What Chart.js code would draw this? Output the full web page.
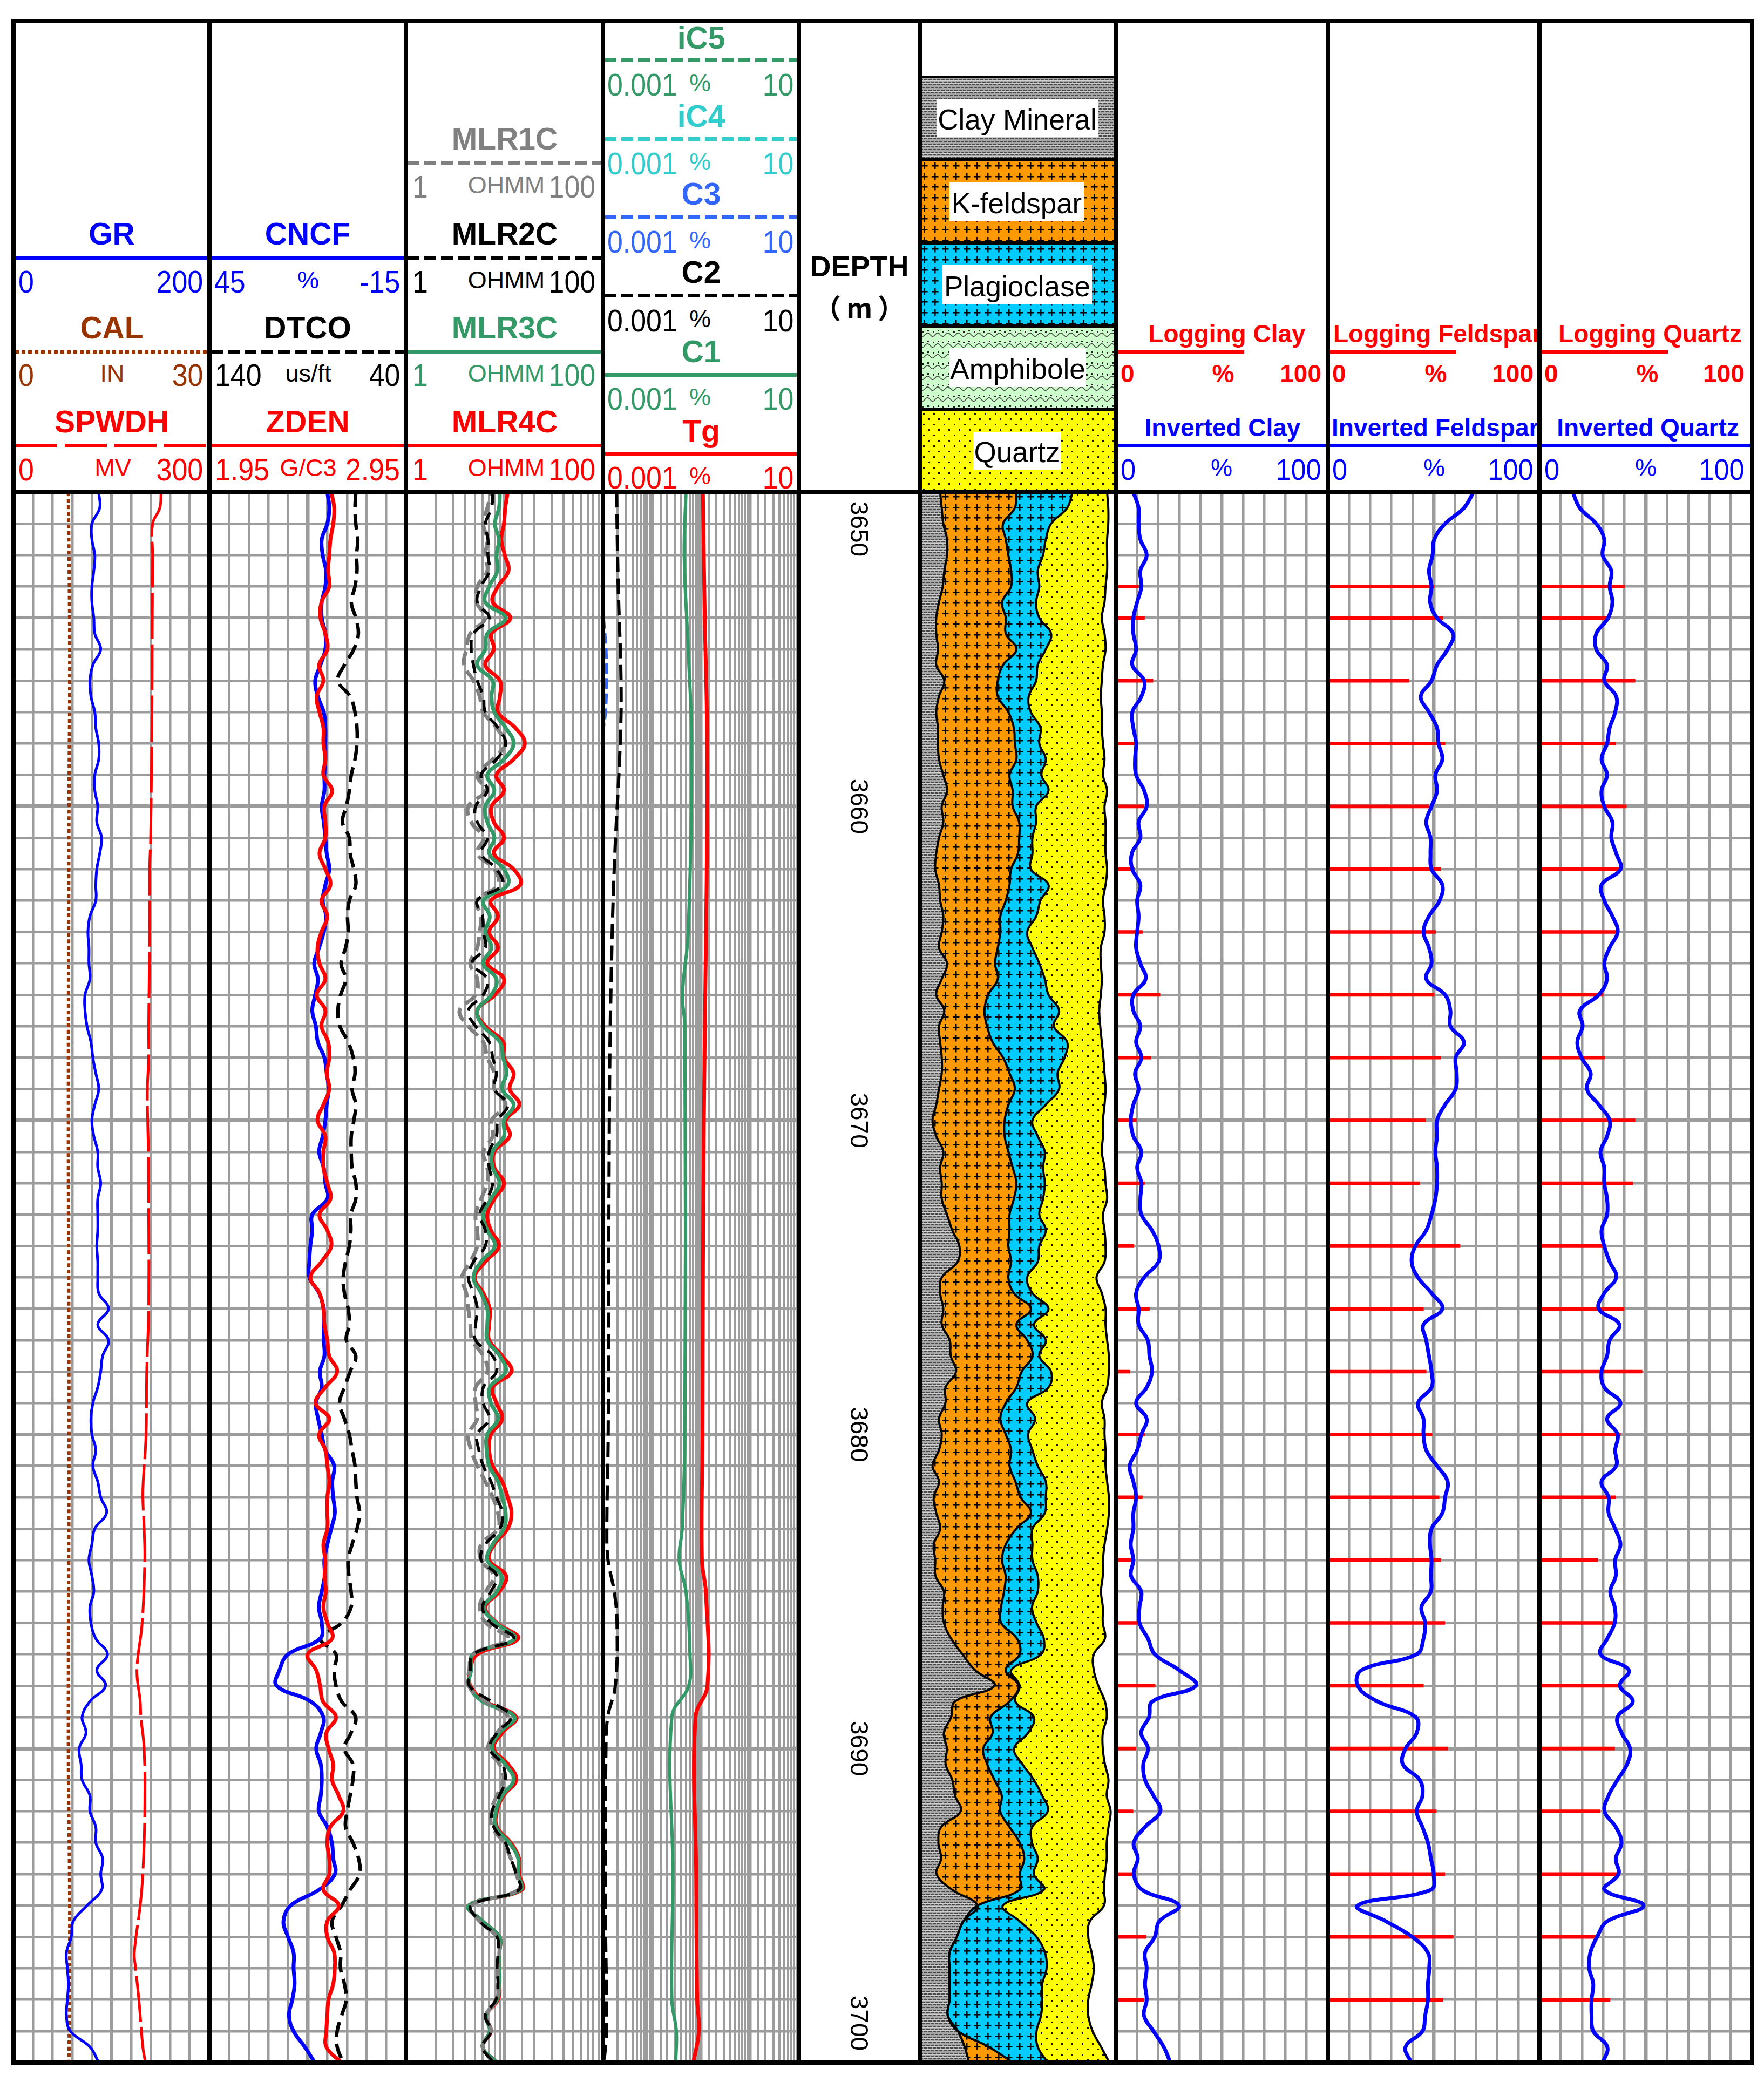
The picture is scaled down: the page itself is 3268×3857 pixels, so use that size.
<!DOCTYPE html>
<html><head><meta charset="utf-8">
<script src="https://cdn.jsdelivr.net/npm/chart.js@4"></script>
<style>
html,body{margin:0;padding:0;background:#fff}
#page{position:relative;width:3268px;height:3857px;overflow:hidden;background:#fff;font-family:"Liberation Sans",Arial,sans-serif}
#page canvas{position:absolute}
.t{position:absolute;white-space:pre;line-height:1}
.l{position:absolute}
</style></head><body><div id="page"></div>
<script>
const depths=[3650,3650.5,3651,3651.5,3652,3652.5,3653,3653.5,3654,3654.5,3655,3655.5,3656,3656.5,3657,3657.5,3658,3658.5,3659,3659.5,3660,3660.5,3661,3661.5,3662,3662.5,3663,3663.5,3664,3664.5,3665,3665.5,3666,3666.5,3667,3667.5,3668,3668.5,3669,3669.5,3670,3670.5,3671,3671.5,3672,3672.5,3673,3673.5,3674,3674.5,3675,3675.5,3676,3676.5,3677,3677.5,3678,3678.5,3679,3679.5,3680,3680.5,3681,3681.5,3682,3682.5,3683,3683.5,3684,3684.5,3685,3685.5,3686,3686.5,3687,3687.5,3688,3688.5,3689,3689.5,3690,3690.5,3691,3691.5,3692,3692.5,3693,3693.5,3694,3694.5,3695,3695.5,3696,3696.5,3697,3697.5,3698,3698.5,3699,3699.5,3700];
const depthTicks=[3650,3660,3670,3680,3690,3700];
const GR=[87,88,80,80,83,82,80,80,82,83,89,81,78,79,83,84,87,87,83,83,86,85,90,88,85,84,84,78,76,77,77,78,73,73,75,
79,81,84,87,83,80,82,86,86,89,86,86,86,85,86,86,87,97,86,97,91,89,86,81,79,80,84,81,86,89,95,83,80,77,
80,82,78,79,84,96,85,94,78,70,74,67,69,70,78,78,84,84,91,89,90,75,61,59,54,55,56,55,54,58,78,87];
const calDepths=[3650,3655,3660,3670,3680,3690,3695,3700];
const CAL=[8.4,8.6,8.5,8.4,8.5,8.4,8.6,8.5];
const spDepths=[3650,3650.5,3651,3652,3654,3657,3661,3662,3664,3667,3668,3669,3670,3671,3673,3676,3678,3680,3681.5,3682,3683,3684,3686,3687.5,3688.5,3689,3690,3692,3694,3695,3696.5,3697,3698,3699.5,3700];
const SPWDH=[226,224,213,213,212.5,212,210,208.5,208.5,207,207,205,205.5,206.5,207,207,204,203,198.6,198,200,201,197,189,194,195,200,201,198,194,185,187,192,198,202];
const CNCF=[9.0,8.4,9.0,10.7,10.4,9.4,9.6,10.7,10.7,9.6,9.6,11.1,12.7,11.9,10.1,9.6,9.6,9.6,9.9,9.9,10.7,10.1,9.6,9.2,8.4,9.6,10.4,9.4,10.1,11.5,13.0,11.9,12.7,13.6,12.5,
11.9,9.9,9.2,8.6,9.2,9.6,10.4,11.5,10.1,9.6,9.0,13.6,13.6,14.2,14.5,14.5,11.5,10.1,10.1,10.1,9.9,11.3,10.7,12.5,11.8,10.7,9.6,6.9,7.5,7.2,6.7,7.8,9.0,9.9,
9.8,10.7,11.6,10.7,11.2,21.0,23.6,24.5,14.1,10.2,11.0,12.4,11.0,10.7,11.0,11.6,9.0,7.6,7.2,6.7,11.6,20.2,22.4,21.0,19.3,19.3,19.0,19.7,20.7,19.3,15.9,12.8];
const ZDEN=[2.57,2.585,2.58,2.566,2.56,2.554,2.56,2.52,2.515,2.54,2.55,2.508,2.53,2.496,2.51,2.53,2.53,2.54,2.53,2.574,2.535,2.54,2.54,2.51,2.54,2.566,2.52,2.55,2.52,2.50,2.51,2.54,2.496,2.54,2.52,
2.554,2.56,2.547,2.56,2.53,2.50,2.54,2.53,2.53,2.55,2.566,2.51,2.55,2.57,2.52,2.464,2.51,2.53,2.535,2.55,2.56,2.60,2.54,2.49,2.56,2.508,2.54,2.55,2.56,2.55,2.55,2.55,2.53,2.54,
2.536,2.542,2.53,2.55,2.574,2.45,2.493,2.513,2.528,2.594,2.545,2.556,2.58,2.574,2.608,2.631,2.565,2.55,2.56,2.56,2.53,2.608,2.55,2.55,2.585,2.588,2.58,2.556,2.55,2.545,2.545,2.622];
const DTCO=[65.5,65.9,65.5,64.5,65.1,64.9,65.9,67.8,65.5,64.2,66.5,71.3,74.6,68.4,65.9,64.9,64.9,65.9,67.8,68.8,70.3,72.3,68.8,68.4,66.5,65.5,68.8,69.7,69.4,70.7,73,70.7,73.2,74.6,73.6,
69.4,66.8,65.9,67.4,65.5,66.5,67.8,67.8,67.4,65.5,65.5,68,68,68.8,70.7,71.9,71.3,69.4,68.8,70.3,65.5,68.4,71.3,73.8,71.3,68.8,67.4,65.9,65.5,64.9,63.6,64.9,67.4,69.4,
69,67.9,67.9,72.7,83.4,75.6,76.5,75.6,72.7,65.6,67.9,71.3,67,67,68.4,69.9,70.7,67,64.1,63.6,68.4,72.7,77.6,75.6,73.3,73.3,71.3,70.4,72.7,75,75,71.9];
const MLR4C=[10.8,10.2,9.9,9.3,10.1,11,8.6,7.6,11.5,7.4,7.8,6.4,9,9,8.6,12.9,16.1,12.4,8.3,9.9,7.4,7.8,9.9,7.8,12.4,14.5,7.3,8.6,7,8.6,6.7,9.9,8,5.3,6.4,
9.7,9.9,12.4,11.3,14.2,10.3,11.3,7.9,7.9,9.9,7.9,6.7,7.3,8.8,6.4,5,6.1,7.1,7,7,9.5,11.8,7.6,8.3,9.5,7.3,7,7.6,9.5,10.8,11.8,10.8,7.9,7,
10.4,8.9,6.4,8.4,13.8,5.3,4.5,4.5,6.4,13.2,9.5,7.8,10.9,13.2,9.8,8.4,8.4,11.6,14.1,14.1,15,4.33,6,8.9,8.9,8.9,8.9,8.6,6.5,7.3,6,8.4];
const MLR3C=[9,8.8,8,8.8,8.3,8.5,7,6.4,10.3,6.7,6.4,5.3,7.6,7.4,7.9,10.3,12.4,9.9,6.7,7.9,6.4,6.7,7.9,7,9.9,10.8,6.1,7.1,6.4,7.4,6.1,8.3,7.4,5.3,6.1,
9,9.7,10.5,9.5,12.4,9.9,9.9,7.6,7.6,8.9,7.3,6.1,6.7,8,5.8,4.85,5.8,6.7,6.7,6.7,9,10.3,7.1,7.3,8.6,6.7,6.6,7,8.6,9.5,10.3,9.9,7.6,6.7,
9.3,8.4,6.2,8.2,12.7,4.8,4.6,4.4,6,12.7,8.9,7.5,10.2,12.4,9.5,8.2,8.2,11.2,13.8,13.8,14.5,4.33,6,8.9,8.9,8.9,8.9,8.4,6.5,7.1,6,8.4];
const MLR2C=[7.6,7.4,6.4,6.8,6.8,7,5.8,5.3,7,4.85,4.6,4.85,5.3,6.1,6.4,8.6,10.3,8.3,5.8,6.7,5.1,5.3,6.7,5.8,8.3,9.5,5.3,6,6.1,6.4,4.7,6.7,6.1,4.3,5.1,
7,7.6,8.3,7.9,10.8,8.6,8.3,7,7,7.6,6.7,5.6,6.4,6.4,4.85,4.3,4.85,5.3,5.1,5.1,7.6,8.3,6.1,6.1,7,5.3,5.5,6.1,7.3,8.3,9.5,9,6.4,5.8,
8.4,7.3,6,7.3,12.4,4.8,4.5,4.4,7.3,11.6,8.4,7.1,9.5,10.2,8.9,7.5,7.8,10.2,11.6,13.2,14.1,4.6,5.6,8.4,8.6,8.4,8.6,8.2,6.4,7.3,6,7.8];
const MLR1C=[7.4,6.7,6.1,6.7,6.4,6.7,5.3,5.2,6.4,4.5,4.1,3.9,4.85,5.6,6.1,8.3,10.2,7.6,5.3,6.4,4.3,4.6,6.1,5.3,7.9,8.6,5.2,5.8,5.6,5.3,4.5,5.3,5.1,3.5,4.3,
6.1,6.7,7.9,7.9,10.3,7.4,7.6,6.1,6.7,6.7,5.8,5.1,5.3,5.3,4.5,3.7,4.1,4.3,4.5,4.7,6.1,6.7,5.1,5.1,5.3,4.3,4.6,5.3,6.4,7.6,8.6,8.6,5.8,5.8,
7.8,6.5,5.6,6.5,10.9,4.8,4.4,4.33,6.4,10.9,8.4,6.8,8.9,9.8,8.4,7.3,7.5,9.8,11.6,13.2,13.8,4.6,5.6,8.4,8.9,8.6,8.6,8.4,6.5,7.3,6,7.8];
const tgDepths=[3650,3654,3657,3660,3665,3670,3675,3680,3684,3685,3688,3689,3694,3698,3699,3700];
const Tg=[0.11,0.12,0.132,0.135,0.125,0.115,0.11,0.108,0.105,0.126,0.136,0.0776,0.08,0.084,0.091,0.07];
const c1Depths=[3650,3652,3655,3658,3664,3666,3667,3680,3683,3684,3685,3687,3688,3689,3694,3698,3699,3700];
const C1=[0.0495,0.0457,0.055,0.0647,0.055,0.042,0.047,0.047,0.0415,0.036,0.0495,0.0598,0.0566,0.0255,0.0268,0.0255,0.0315,0.0306];
const c2Depths=[3650,3653,3656,3658,3662,3666,3670,3680,3683,3684,3685,3686,3688,3689,3690,3695,3699,3700];
const C2=[0.0019,0.00205,0.00234,0.00225,0.0017,0.00145,0.00135,0.00128,0.0012,0.00127,0.0017,0.00194,0.00179,0.00125,0.00115,0.00112,0.00118,0.00105];
const c3Depths=[3654,3655,3656,3657,3657.5];
const C3=[0.00102,0.00115,0.00118,0.00112,0.00102];
const clayTop=[10.4,11.2,12,13.9,13.9,12.5,11.7,9.8,8.4,8.4,9.3,8.4,12.5,9.8,8.4,9.3,9.3,9.8,12,13.9,11.2,12,9.8,8.4,7.9,9.8,10.4,12,11.2,9.8,13.9,11.2,8.4,12.5,9.8,
10.4,11.2,11.2,9.8,8.4,6.5,8.4,12,10.4,11.2,11.2,13.9,16.6,20.2,19.3,11.2,10.4,12,11.2,15.3,15.8,18.5,13.1,13.1,9.8,11.2,9.8,6.5,9.8,7.1,8.4,10.4,7.1,7.9,
8,12.3,11.7,12.3,16,21.8,28.1,38.1,18,16,12.3,13.8,13.2,16.6,18,20.9,10.9,9.5,10.9,8.6,16.6,29.5,22.3,18.9,15.2,15.2,15.2,15.2,14.3,19.5,22.9,25.2];
const kfeldTop=[49.3,48.5,42.5,43.9,45.2,46.6,46.6,42,43.9,43.9,49.3,42.5,39.8,39.8,45.2,48,48.5,49.3,45.8,47.4,47.4,50.7,50.7,50.1,46.6,45.8,43.9,41.1,41.1,39.8,38.4,39.8,34.9,33,34.3,
37.1,42.5,45.8,48.5,45.2,43.3,43.3,45.2,47.4,49.3,48,45.8,45.8,45.2,46.6,45.2,48,56.7,49.3,54.8,57.5,52,49.3,43.9,41.1,43.9,46.6,45.8,48.8,51.5,56.7,49.3,43.9,42,
43.8,43,41.5,41.5,49.6,51,43.8,50.4,45.8,36.1,37.2,32.4,34.4,38.1,41.8,41,45.8,51,53.3,51,51,29.5,22.3,18.9,15.2,15.2,15.2,15.2,14.3,19.5,35.2,47.6];
const plagTop=[77.9,75.2,67,64.3,62.9,60.2,61,59.4,61,67,64.3,60.2,59.4,55.6,56.7,61.6,61,64.3,62.1,65.7,59.4,59.4,57.5,57.5,56.7,65.7,61.6,59.4,54.8,57.5,61,63.8,65.7,71.1,68.4,
75.2,73.9,70.3,71.1,64.3,57.5,60.2,63.8,62.9,63.8,62.9,61,64.3,61,60.2,54.8,57.5,65.7,58.3,64.3,61,67,65.7,54.8,58.9,55.3,57.5,60.2,64.3,64.3,63.8,57.5,57.5,57.5,
60.2,60.2,57.3,59.6,63.3,61.9,46.7,51,48.7,58.2,55.3,48.1,52.4,58.2,62.5,65.3,57.3,57.3,60.2,58.2,63.3,42.4,51,59.6,63.9,64.7,62.5,62.5,61.9,59.6,60.2,65.3];
const quartzTop=[95.6,96.2,96.2,95.6,95.6,95.6,94.8,94.3,92.9,94.3,94.8,93.5,92.9,92.4,92.9,92.9,93.5,94.3,93.5,95.6,94.3,94.8,94.8,94.8,95.6,94.8,93.5,94.3,94.3,92.4,92.4,92.9,92.4,91.6,92.1,
92.9,93.7,94.3,94.8,94.3,93.5,93.5,92.9,94.3,94.8,95.6,93.5,94.3,94.8,94.3,90.2,92.9,94.8,94.8,95.6,96.5,96.5,95.6,92.9,94.3,94.3,94.8,94.8,95.6,96.5,96.5,95.6,94.3,93.5,
93.4,92.5,93.4,93.4,94.5,88.8,88.8,91.1,94.5,95.4,93.4,93.4,94.5,96.3,95.4,97.4,96.3,95.4,95.4,94.5,94,94,86.8,86,87.7,88.8,87.7,86,86,88.2,92.5,96.8];
const invClay=[8.3,10.8,10.8,11.6,14.6,11.6,12.1,10.1,8.3,8.3,9.6,7.8,13.4,12.1,7.8,8.3,9.6,9.1,9.6,13.4,14.6,10.8,11.6,7.6,7.8,11.6,10.1,10.8,10.1,9.6,11.6,14.1,8.3,8.3,11.6,
9.6,12.1,9.1,10.8,8.3,7.1,8.3,12.1,10.1,12.1,11.6,12.1,17.1,20.2,20.2,13.4,9.6,10.8,10.8,15.1,15.9,17.1,14.6,9.6,14.6,12.1,10.1,6.6,8.3,9.6,8.3,8.3,7.1,8.3,
7.2,12,11.2,11.2,15.2,18.4,29.8,37.8,17.3,15.7,12,15.2,13,13.8,17.8,21,13.8,8.5,10.4,8.5,12.5,29.8,20.5,18.4,13.8,14.6,13.8,14.6,13.3,17.8,22.6,25.8];
const invFeld=[68.8,64.3,55.4,50.3,49.5,47.8,49,48.3,51.6,59.2,56.6,51.6,49,43.9,47.8,51.6,52.3,54.1,50.8,51.6,49,46.5,48.5,48.5,49,54.1,52.8,47.8,45.2,47.8,49,46.5,55.4,57.9,57.9,
64.3,60.4,60.9,60.4,55.4,51.6,51.6,50.8,51.6,51.6,50.8,49,46.5,41.4,39.6,42.6,49,54.1,45.2,46.5,47.8,49,49,42.6,45.2,45.2,46.5,51.6,56.6,55.4,54.1,49,48.3,49,
48.7,48.7,44.2,46,45.2,42,16,14.1,23.4,41.5,42,36.7,35.4,43.4,44.7,42,44.7,47.3,48.7,50,48.7,14,27.4,39.9,47.3,47.9,47.3,47.3,46,44.7,36.7,39.4];
const invQtz=[15.7,19,26.7,30.5,29.7,33.8,33,34.3,32.3,26.7,26.7,31.8,30.5,36.1,35.6,33,31.8,29.2,31.8,29.2,30.5,34.3,33.8,36.1,38.1,29.2,30.5,34.3,36.8,33,30.5,31.8,27.9,19,20.3,
17.8,19.8,24.1,22.3,27.9,33,31.8,28.7,30.5,30.5,31.8,31.8,29.2,30.5,33,36.1,30.5,27.9,37.6,33,31.8,29.2,30.5,38.1,31.8,36.8,35.6,36.1,29.2,32.5,32.5,35.6,38.1,35.6,
35.9,33.3,35.4,35.4,31.9,28.7,42,37.8,43.9,36.7,38.6,42.6,41.2,36.7,32.5,30.6,35.9,38.6,35.9,37.2,30.6,49,31.9,27.1,23.9,23.4,25.3,24.5,24.5,25.3,31.9,29.8];
const logDepths=[3653,3654,3656,3658,3660,3662,3664,3666,3668,3670,3672,3674,3676,3678,3680,3682,3684,3686,3688,3690,3692,3694,3696,3698];
const logClay=[10.8,13.6,17.6,10.1,13.4,8.8,12.6,20.9,16.6,9.8,13.6,8.6,15.9,6.8,13.6,12.6,8.5,10.6,18.6,9.6,8.2,8,14.4,13.3];
const logFeld=[50.3,54.4,38.4,55.4,47.8,53.3,51,50.3,53.3,46.2,43.4,62.5,45.2,46.5,49.3,52.6,53.5,55.3,45.2,56.7,51.3,55.3,59.3,54.5];
const logQtz=[40.1,33,45,35.8,40.9,38.9,37.1,30,30.7,45,43.9,30,39.9,48.3,38.1,35.8,27.4,35.9,37.5,35.4,28.5,37.5,27.1,33.2];

const BLUE='#0000FF',RED='#FF0000',BROWN='#993300',BLACK='#000000',GREEN='#339966',CYAN='#33CCCC',C3BLUE='#3366FF',GREYC='#808080',GRID='#9C9C9C';
const page=document.getElementById('page');
const TOP=912,BOTTOM=3821;
const FR=[25,388,752,1117,1480,1704,2067,2460,2852,3246];
Chart.defaults.font.family='"Liberation Sans",Arial,sans-serif';

const pairs=(vals,ys)=>vals.map((v,i)=>({x:v,y:ys[i]}));
function lineDS(vals,ys,color,width,dash,axis,dashOff){return {type:'line',data:pairs(vals,ys),borderColor:color,borderWidth:width,borderDash:dash||[],borderDashOffset:dashOff||0,xAxisID:axis||'x',pointRadius:0,tension:0.4,fill:false,borderJoinStyle:'round',borderCapStyle:'butt'};}
function yAxis(){return {type:'linear',min:3650,max:3700,reverse:true,offset:false,display:true,border:{display:false},ticks:{display:false,stepSize:1,maxTicksLimit:60},grid:{offset:false,color:GRID,drawTicks:false,tickLength:0,lineWidth:c=>(c.tick&&Math.abs(c.tick.value%10)<1e-6)?7:4.5}};}
function gridX(min,max,step,reverse){const mid=(min+max)/2;return {type:'linear',min,max,reverse:!!reverse,offset:false,display:true,border:{display:false},ticks:{display:false,stepSize:step,maxTicksLimit:40},grid:{offset:false,color:GRID,drawTicks:false,tickLength:0,lineWidth:c=>(c.tick&&Math.abs(c.tick.value-mid)<1e-6)?6.5:4.5}};}
function logX(min,max){return {type:'logarithmic',min,max,offset:false,display:true,border:{display:false},ticks:{display:false,autoSkip:false},grid:{offset:false,color:GRID,drawTicks:false,tickLength:0,lineWidth:c=>{if(!c.tick)return 4;const l=Math.log10(c.tick.value);return Math.abs(l-Math.round(l))<1e-6?6.5:4;}}};}
function hidX(min,max,reverse){return {type:'linear',min,max,reverse:!!reverse,display:false,offset:false};}
function track(i,scales,datasets,plugins){
  const c=document.createElement('canvas');const w=FR[i+1]-FR[i],h=BOTTOM-TOP;
  c.width=w;c.height=h;c.style.left=FR[i]+'px';c.style.top=TOP+'px';c.style.width=w+'px';c.style.height=h+'px';page.appendChild(c);
  return new Chart(c.getContext('2d'),{type:'line',data:{datasets},plugins:plugins||[],options:{indexAxis:'y',responsive:false,maintainAspectRatio:false,animation:false,devicePixelRatio:1,events:[],layout:{padding:0},plugins:{legend:{display:false},tooltip:{enabled:false}},scales}});
}

// hatch patterns
function hatch(w,h,draw){const c=document.createElement('canvas');c.width=w;c.height=h;draw(c.getContext('2d'),w,h);return c;}
function plus(base){return hatch(59,59,(g,w,h)=>{g.fillStyle=base;g.fillRect(0,0,w,h);g.fillStyle='#000';for(let i=0;i<3;i++)for(let j=0;j<3;j++){const cx=Math.round(8+i*19.67),cy=Math.round(8+j*19.67);g.fillRect(cx-6,cy-1,12.5,2.5);g.fillRect(cx-1,cy-6,2.5,12.5);}});}
const patClay=hatch(16,10,(g,w,h)=>{g.fillStyle='#A6A6A6';g.fillRect(0,0,w,h);g.fillStyle='#D0D0D0';g.fillRect(0,4,w,1);g.fillRect(0,9,w,1);g.fillStyle='#484848';g.fillRect(0,1,6,2);g.fillRect(8,1,6,2);g.fillRect(4,6,6,2);g.fillRect(12,6,4,2);g.fillRect(0,6,2,2);});
const patK=plus('#FF9900'),patP=plus('#00CCFF');
const patQ=hatch(38,20,(g,w,h)=>{g.fillStyle='#FFFF00';g.fillRect(0,0,w,h);g.fillStyle='#111';[[6,3],[25,3],[15,13],[34,13]].forEach(p=>g.fillRect(p[0],p[1],3,3));});
const patA=hatch(38,20,(g,w,h)=>{g.fillStyle='#CCFFCC';g.fillRect(0,0,w,h);g.strokeStyle='#444';g.lineWidth=1.6;g.beginPath();for(let x=0;x<=w;x++){const y=12+3.2*Math.sin(x/w*4*Math.PI);x?g.lineTo(x,y):g.moveTo(x,y);}g.stroke();g.fillStyle='#222';[[4,5],[14,3],[24,5],[33,3]].forEach(p=>g.fillRect(p[0],p[1],3,3));});

// Track 1
track(0,{y:yAxis(),x:gridX(0,200,20),xCal:hidX(0,30),xSp:hidX(0,300)},[
 lineDS(GR,depths,BLUE,5),
 lineDS(SPWDH,spDepths,RED,5,[85,10],'xSp'),
 lineDS(CAL,calDepths,BROWN,6,[7,5],'xCal')]);
// Track 2
track(1,{y:yAxis(),x:gridX(-15,45,6,true),xZ:hidX(1.95,2.95),xD:hidX(40,140,true)},[
 lineDS(ZDEN,depths,RED,7,null,'xZ'),
 lineDS(CNCF,depths,BLUE,7),
 lineDS(DTCO,depths,BLACK,6.5,[28,13],'xD')]);
// Track 3
track(2,{y:yAxis(),x:logX(1,100)},[
 lineDS(MLR2C,depths,BLACK,5.5,[24,14]),
 lineDS(MLR1C,depths,GREYC,7,[26,12],'x',19),
 lineDS(MLR3C,depths,GREEN,7),
 lineDS(MLR4C,depths,RED,7)]);
// Track 4
track(3,{y:yAxis(),x:logX(0.001,10)},[
 lineDS(Tg,tgDepths,RED,7),
 lineDS(C1,c1Depths,GREEN,6),
 lineDS(C2,c2Depths,BLACK,6,[28,12]),
 lineDS(C3,c3Depths,C3BLUE,6,[20,8])]);
// Depth track
const depthLabels={id:'depthLabels',afterDraw(ch){const s=ch.scales.y,g=ch.ctx;g.save();g.fillStyle='#000';g.font='46px "Liberation Sans",Arial,sans-serif';g.textAlign='center';g.textBaseline='middle';
  depthTicks.forEach(v=>{const py=Math.min(Math.max(s.getPixelForValue(v),68),ch.height-73);g.save();g.translate(ch.width*0.483,py);g.rotate(Math.PI/2);g.fillText(String(v),0,0);g.restore();});g.restore();}};
track(4,{y:{type:'linear',min:3650,max:3700,reverse:true,display:false},x:{type:'linear',min:0,max:1,display:false}},[],[depthLabels]);
// Lithology track
const lithFill={id:'lithFill',beforeDatasetsDraw(ch){const g=ch.ctx,A=ch.chartArea;const lines=ch.getSortedVisibleDatasetMetas().slice().sort((a,b)=>a.index-b.index).map(m=>m.dataset);
  const pats=[patClay,patK,patP,patQ];
  g.save();g.beginPath();g.rect(A.left,A.top,A.right-A.left,A.bottom-A.top);g.clip();
  lines.forEach((ln,i)=>{g.fillStyle=g.createPattern(pats[i],'repeat');g.beginPath();
    if(i===0){g.moveTo(A.left,A.top);ln.pathSegment(g,ln.segments[0],{move:false});g.lineTo(A.left,A.bottom);g.closePath();}
    else{ln.pathSegment(g,ln.segments[0],{move:true});const p=lines[i-1];p.pathSegment(g,p.segments[0],{move:false,reverse:true});g.closePath();}
    g.fill();});
  g.restore();}};
track(5,{y:{type:'linear',min:3650,max:3700,reverse:true,display:false,offset:false},x:{type:'linear',min:0,max:100,display:false,offset:false}},[
 lineDS(clayTop,depths,BLACK,4),lineDS(kfeldTop,depths,BLACK,4),lineDS(plagTop,depths,BLACK,4),lineDS(quartzTop,depths,BLACK,4)],[lithFill]);
// Tracks 7-9
function invTrack(i,inv,log){track(i,{y:yAxis(),x:gridX(0,100,10)},[
 lineDS(inv,depths,BLUE,7),
 {type:'bar',data:pairs(log,logDepths),backgroundColor:RED,barThickness:6,xAxisID:'x',borderWidth:0}]);}
invTrack(6,invClay,logClay);invTrack(7,invFeld,logFeld);invTrack(8,invQtz,logQtz);

// Header
function text(s,x,y,o){const d=document.createElement('div');d.className='t';d.textContent=s;const a=o.a||'c',sx=o.sx?` scaleX(${o.sx})`:'';
  d.style.cssText+=`font-size:${o.fs}px;font-weight:${o.b?'bold':'normal'};color:${o.c};top:${y}px;`+(o.font?`font-family:${o.font};`:'')+(o.ls?`letter-spacing:${o.ls}px;`:'');
  if(a==='l'){d.style.left=x+'px';d.style.transformOrigin='left center';d.style.transform='translateY(-50%)'+sx;}
  else if(a==='r'){d.style.right=(3268-x)+'px';d.style.transformOrigin='right center';d.style.transform='translateY(-50%)'+sx;}
  else{d.style.left=x+'px';d.style.transform='translate(-50%,-50%)'+sx;}
  (o.p||page).appendChild(d);return d;}
function hline(x,y,w,color,on,off,th){const d=document.createElement('div');d.className='l';const t=th||7;
  d.style.cssText+=`left:${x}px;top:${y-t/2}px;width:${w}px;height:${t}px;`+(on?`background:repeating-linear-gradient(90deg,${color} 0,${color} ${on}px,transparent ${on}px,transparent ${on+off}px);`:`background:${color};`);page.appendChild(d);}
function block(ti,cx,ux,lx,rx,title,color,ty,ly,vy,unit,l,r,on,off){
  text(title,cx,ty,{fs:57,b:1,c:color});
  hline(FR[ti]+3,ly,FR[ti+1]-FR[ti]-6,color,on,off);
  text(l,lx,vy,{fs:57,c:color,a:'l',sx:0.91});text(r,rx,vy,{fs:57,c:color,a:'r',sx:0.91});
  text(unit,ux,vy-4,{fs:45,c:color});
}
block(0,207,207,34,376,'GR',BLUE,433,477,522,'','0','200');
block(0,207,208,34,376,'CAL',BROWN,607,651,695,'IN','0','30',7,5);
block(0,207,209,34,376,'SPWDH',RED,781,825,870,'MV','0','300',78,14);
block(1,570,571,397,741,'CNCF',BLUE,433,477,522,'%','45','-15');
block(1,570,571,398,741,'DTCO',BLACK,607,651,695,'us/ft','140','40',22,9);
block(1,570,571,398,741,'ZDEN',RED,781,825,870,'G/C3','1.95','2.95');
block(2,935,938,764,1103,'MLR1C',GREYC,257,301,346,'OHMM','1','100',22,9);
block(2,935,938,764,1103,'MLR2C',BLACK,433,477,522,'OHMM','1','100',22,9);
block(2,935,938,764,1103,'MLR3C',GREEN,607,651,695,'OHMM','1','100');
block(2,935,938,764,1103,'MLR4C',RED,781,825,870,'OHMM','1','100');
block(3,1299,1297,1125,1470,'iC5',GREEN,70,111,157,'%','0.001','10',22,9);
block(3,1299,1297,1125,1470,'iC4',CYAN,215,257,303,'%','0.001','10',22,9);
block(3,1299,1297,1125,1470,'C3',C3BLUE,359,402,448,'%','0.001','10',22,9);
block(3,1299,1297,1125,1470,'C2',BLACK,504,547,594,'%','0.001','10',22,9);
block(3,1299,1297,1125,1470,'C1',GREEN,651,694,739,'%','0.001','10');
block(3,1299,1297,1125,1470,'Tg',RED,798,840,885,'%','0.001','10');
text('DEPTH',1592,493,{fs:54,b:1,c:BLACK});
text('（m）',1597,568,{fs:50,b:1,c:BLACK,font:'"Noto Sans CJK SC"',ls:10});
// lithology legend
[[141,295,patClay,'Clay Mineral',1735,2034,184,254],[295,449,patK,'K-feldspar',1759,2008,337,410],[449,604,patP,'Plagioclase',1746,2023,491,564],[604,758,patA,'Amphibole',1759,2012,645,717],[758,910,patQ,'Quartz',1803,1965,800,870]].forEach(r=>{
  const d=document.createElement('div');d.className='l';d.style.cssText+=`left:${FR[5]}px;top:${r[0]}px;width:${FR[6]-FR[5]}px;height:${r[1]-r[0]}px;background-image:url(${r[2].toDataURL()});border-top:4px solid #000;border-bottom:3px solid #000;box-sizing:border-box;`;page.appendChild(d);
  const b=document.createElement('div');b.className='l';b.style.cssText+=`left:${r[4]}px;top:${r[6]}px;width:${r[5]-r[4]}px;height:${r[7]-r[6]}px;background:#fff;`;page.appendChild(b);
  text(r[3],(r[4]+r[5])/2,(r[6]+r[7])/2+2,{fs:53,c:BLACK});
});
// right tracks header
function clip(i){const d=document.createElement('div');d.className='l';d.style.cssText+=`left:${FR[i]+3}px;top:560px;width:${FR[i+1]-FR[i]-7}px;height:340px;overflow:hidden;`;page.appendChild(d);return d;}
function inv(i,logT,invT,lx,tx1,tx2,ux,rx,a){
  const p=clip(i),ox=FR[i]+3,oy=560;
  const o1={fs:46,b:1,c:RED,p},o2={fs:46,b:1,c:BLUE,p};
  if(a){o1.a='l';o2.a='l';}
  text(logT,tx1-ox,618-oy,o1);text(invT,tx2-ox,792-oy,o2);
  hline(FR[i]+3,651,235,RED);hline(FR[i]+3,825,FR[i+1]-FR[i]-6,BLUE);
  text('0',lx,692,{fs:46,b:1,c:RED,a:'l'});text('%',ux,692,{fs:46,b:1,c:RED});text('100',rx,692,{fs:46,b:1,c:RED,a:'r'});
  text('0',lx,870,{fs:55,c:BLUE,a:'l',sx:0.92});text('%',ux-3,866,{fs:45,c:BLUE});text('100',rx,870,{fs:55,c:BLUE,a:'r',sx:0.92});
}
inv(6,'Logging Clay','Inverted Clay',2076,2273,2265,2266,2448);
inv(7,'Logging Feldspar','Inverted Feldspar',2468,2470,2467,2660,2841,true);
inv(8,'Logging Quartz','Inverted Quartz',2861,3057,3053,3052,3232);
// frame
FR.forEach(x=>{const d=document.createElement('div');d.className='l';d.style.cssText+=`left:${x-4}px;top:35px;width:8px;height:3790px;background:#000;`;page.appendChild(d);});
[39,912,3821].forEach(y=>{const d=document.createElement('div');d.className='l';d.style.cssText+=`left:21px;top:${y-4}px;width:3229px;height:8px;background:#000;`;page.appendChild(d);});
</script></body></html>
